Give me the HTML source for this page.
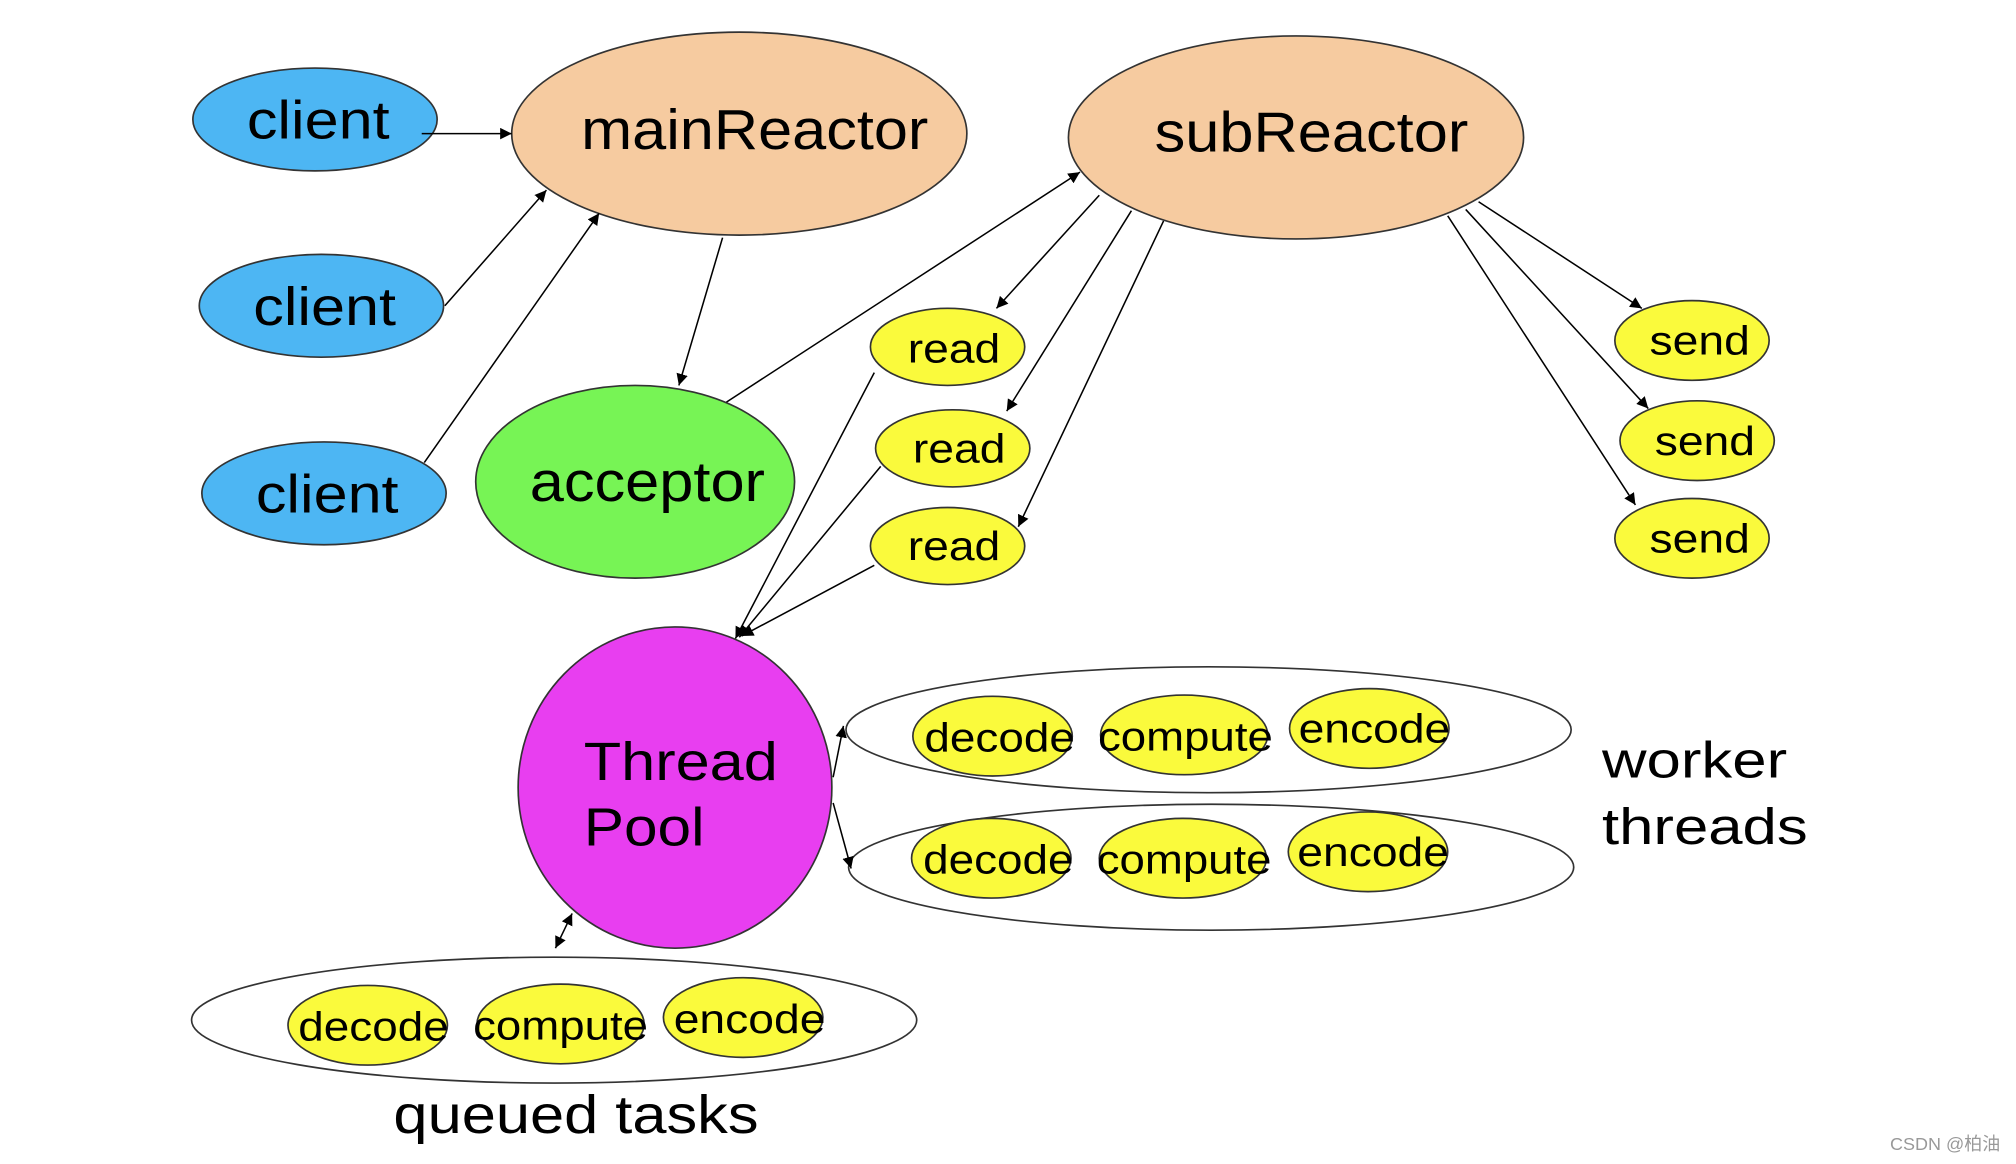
<!DOCTYPE html>
<html><head><meta charset="utf-8"><style>
html,body{margin:0;padding:0;background:#fff;}
svg{display:block;}
text{font-family:"Liberation Sans","DejaVu Sans",sans-serif;fill:#000;}
</style></head><body>
<svg width="2016" height="1164" viewBox="0 0 1568 906" preserveAspectRatio="none" xmlns="http://www.w3.org/2000/svg">
<defs>
<marker id="a" viewBox="0 0 10 10" refX="10" refY="5" markerWidth="9" markerHeight="9" orient="auto-start-reverse" markerUnits="userSpaceOnUse">
<path d="M0,0 L10,5 L0,10 z" fill="#000"/></marker>
</defs>
<rect width="1568" height="906" fill="#fff"/>
<g stroke="#333" stroke-width="1.3">
<ellipse cx="245" cy="93" rx="95" ry="40" fill="#4db6f3"/>
<ellipse cx="250" cy="238" rx="95" ry="40" fill="#4db6f3"/>
<ellipse cx="252" cy="384" rx="95" ry="40" fill="#4db6f3"/>
<ellipse cx="575" cy="104" rx="177" ry="79" fill="#f6cba0"/>
<ellipse cx="1008" cy="107" rx="177" ry="79" fill="#f6cba0"/>
<ellipse cx="494" cy="375" rx="124" ry="75" fill="#77f455"/>
<ellipse cx="737" cy="270" rx="60" ry="30" fill="#fafa3c"/>
<ellipse cx="741" cy="349" rx="60" ry="30" fill="#fafa3c"/>
<ellipse cx="737" cy="425" rx="60" ry="30" fill="#fafa3c"/>
<ellipse cx="1316" cy="265" rx="60" ry="31" fill="#fafa3c"/>
<ellipse cx="1320" cy="343" rx="60" ry="31" fill="#fafa3c"/>
<ellipse cx="1316" cy="419" rx="60" ry="31" fill="#fafa3c"/>
<ellipse cx="525" cy="613" rx="122" ry="125" fill="#e83ef0"/>
<ellipse cx="940" cy="568" rx="282" ry="49" fill="#fff"/>
<ellipse cx="942" cy="675" rx="282" ry="49" fill="#fff"/>
<ellipse cx="431" cy="794" rx="282" ry="49" fill="#fff"/>
<ellipse cx="772" cy="573" rx="62" ry="31" fill="#fafa3c"/>
<ellipse cx="921" cy="572" rx="65" ry="31" fill="#fafa3c"/>
<ellipse cx="1065" cy="567" rx="62" ry="31" fill="#fafa3c"/>
<ellipse cx="771" cy="668" rx="62" ry="31" fill="#fafa3c"/>
<ellipse cx="920" cy="668" rx="65" ry="31" fill="#fafa3c"/>
<ellipse cx="1064" cy="663" rx="62" ry="31" fill="#fafa3c"/>
<ellipse cx="286" cy="798" rx="62" ry="31" fill="#fafa3c"/>
<ellipse cx="436" cy="797" rx="65" ry="31" fill="#fafa3c"/>
<ellipse cx="578" cy="792" rx="62" ry="31" fill="#fafa3c"/>
</g>
<g stroke="#000" stroke-width="1.2" fill="none" marker-end="url(#a)">
<line x1="328" y1="104" x2="398" y2="104"/>
<line x1="346" y1="238" x2="425" y2="148"/>
<line x1="330" y1="360" x2="466" y2="166"/>
<line x1="562" y1="185" x2="528" y2="300"/>
<line x1="565" y1="313" x2="840" y2="134"/>
<line x1="855" y1="152" x2="775" y2="240"/>
<line x1="880" y1="164" x2="783" y2="320"/>
<line x1="905" y1="172" x2="792" y2="410"/>
<line x1="1150" y1="157" x2="1277" y2="240"/>
<line x1="1140" y1="163" x2="1282" y2="318"/>
<line x1="1126" y1="168" x2="1272" y2="393"/>
<line x1="680" y1="290" x2="572" y2="497"/>
<line x1="685" y1="363" x2="575" y2="496"/>
<line x1="680" y1="440" x2="577" y2="495"/>
<line x1="648" y1="605" x2="656" y2="565"/>
<line x1="648" y1="625" x2="662" y2="676"/>
<line x1="432" y1="738" x2="445" y2="711" marker-start="url(#a)"/>
</g>
<g font-size="42" lengthAdjust="spacingAndGlyphs">
<text x="192" y="108" textLength="111" lengthAdjust="spacingAndGlyphs">client</text>
<text x="197" y="253" textLength="111" lengthAdjust="spacingAndGlyphs">client</text>
<text x="199" y="399" textLength="111" lengthAdjust="spacingAndGlyphs">client</text>
<text x="452" y="116" font-size="44" textLength="270" lengthAdjust="spacingAndGlyphs">mainReactor</text>
<text x="898" y="118" font-size="44" textLength="244" lengthAdjust="spacingAndGlyphs">subReactor</text>
<text x="412" y="390" font-size="44" textLength="183" lengthAdjust="spacingAndGlyphs">acceptor</text>
<text x="454" y="607" textLength="151" lengthAdjust="spacingAndGlyphs">Thread</text>
<text x="454" y="658" textLength="94" lengthAdjust="spacingAndGlyphs">Pool</text>
<text x="1246" y="605" font-size="40" textLength="144" lengthAdjust="spacingAndGlyphs">worker</text>
<text x="1246" y="657" font-size="40" textLength="160" lengthAdjust="spacingAndGlyphs">threads</text>
<text x="306" y="882" textLength="284" lengthAdjust="spacingAndGlyphs">queued tasks</text>
</g>
<g font-size="32">
<text x="706" y="282" textLength="72" lengthAdjust="spacingAndGlyphs">read</text>
<text x="710" y="360" textLength="72" lengthAdjust="spacingAndGlyphs">read</text>
<text x="706" y="436" textLength="72" lengthAdjust="spacingAndGlyphs">read</text>
<text x="1283" y="276" textLength="78" lengthAdjust="spacingAndGlyphs">send</text>
<text x="1287" y="354" textLength="78" lengthAdjust="spacingAndGlyphs">send</text>
<text x="1283" y="430" textLength="78" lengthAdjust="spacingAndGlyphs">send</text>
<text x="719" y="585" textLength="117" lengthAdjust="spacingAndGlyphs">decode</text>
<text x="854" y="584" textLength="136" lengthAdjust="spacingAndGlyphs">compute</text>
<text x="1010" y="578" textLength="118" lengthAdjust="spacingAndGlyphs">encode</text>
<text x="718" y="680" textLength="117" lengthAdjust="spacingAndGlyphs">decode</text>
<text x="853" y="680" textLength="136" lengthAdjust="spacingAndGlyphs">compute</text>
<text x="1009" y="674" textLength="118" lengthAdjust="spacingAndGlyphs">encode</text>
<text x="232" y="810" textLength="117" lengthAdjust="spacingAndGlyphs">decode</text>
<text x="368" y="809" textLength="136" lengthAdjust="spacingAndGlyphs">compute</text>
<text x="524" y="804" textLength="118" lengthAdjust="spacingAndGlyphs">encode</text>
</g>
<text x="1470" y="895" font-size="14" style="fill:#999;font-family:'Liberation Sans','Noto Sans CJK SC',sans-serif">CSDN @柏油</text>
</svg>
</body></html>
